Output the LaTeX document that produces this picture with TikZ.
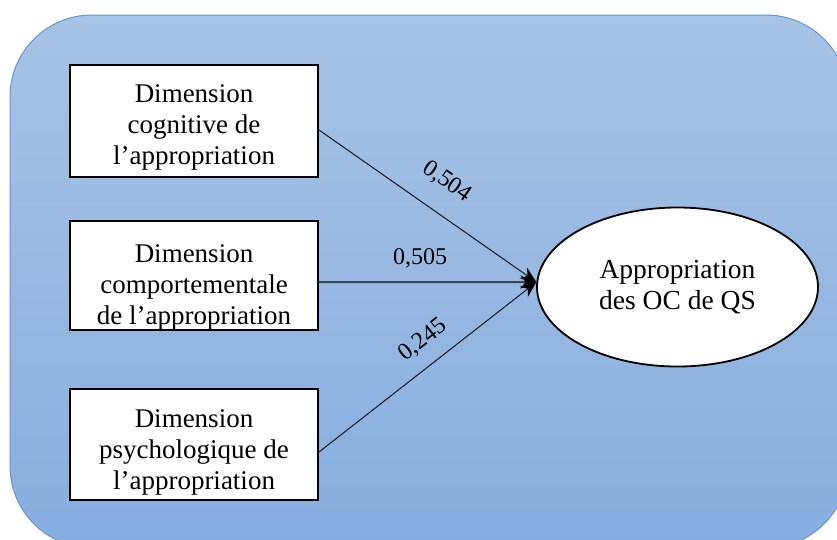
\documentclass[tikz,border=0pt]{standalone}
\usepackage{fontspec}
\setmainfont{Liberation Serif}
\usetikzlibrary{shapes.geometric,arrows.meta}
\definecolor{bgtop}{RGB}{167,195,229}
\definecolor{bgbot}{RGB}{134,174,223}
\definecolor{bgline}{RGB}{98,150,214}
\definecolor{conn}{RGB}{35,35,42}
\definecolor{connmid}{RGB}{55,68,90}
\begin{document}
\begin{tikzpicture}[x=1pt,y=-1pt,
  box/.style={draw=black, line width=2pt, fill=white, minimum width=248pt, inner sep=0pt},
  boxtext/.style={anchor=north, inner sep=0pt, align=center, font=\fontsize{27}{31}\selectfont},
  target/.style={ellipse, draw=black, line width=1.8pt, fill=white, minimum width=281pt, minimum height=159pt, inner sep=0pt, align=center, font=\fontsize{27.5}{31}\selectfont},
  link/.style={draw=conn, line width=1.1pt, -{Stealth[length=16pt,width=13pt,color=black]}},
  linkmid/.style={draw=connmid, line width=2pt, -{Stealth[length=16pt,width=13pt,color=black]}},
  lbl/.style={inner sep=0pt, font=\fontsize{24}{28}\selectfont}
]
\useasboundingbox (0,0) rectangle (837,539);
\begin{scope}
  \clip (0,0) rectangle (837,539);
  \path[top color=bgtop, bottom color=bgbot, draw=bgline, line width=1pt, rounded corners=82pt] (10,15) rectangle (848,548);
\end{scope}

% boxes
\node[box, minimum height=112pt] (b1) at (194,121) {};
\node[box, minimum height=109pt] (b2) at (194,275.5) {};
\node[box, minimum height=111pt] (b3) at (194,444.5) {};

\node[boxtext] (t1) at (194,82) {\rule{0pt}{20pt}Dimension\\cognitive de\\l’appropriation};
\node[boxtext] (t2) at (194,242) {\rule{0pt}{20pt}Dimension\\comportementale\\de l’appropriation};
\node[boxtext] (t3) at (194,407) {\rule{0pt}{20pt}Dimension\\psychologique de\\l’appropriation};

% target ellipse
\node[target] (E) at (677.5,287) {Appropriation\\des OC de QS};

% connectors
\draw[link] ([yshift=-9pt]b1.east) -- (E.178);
\draw[linkmid] ([yshift=-6.5pt]b2.east) -- (E.178);
\draw[link] ([yshift=-7.5pt]b3.east) -- (E.178);

% labels
\node[lbl, rotate=-34.8] (l1) at (447,182) {0,504};
\node[lbl] (l2) at (420,258) {0,505};
\node[lbl, rotate=37.8] (l3) at (423,340) {0,245};
\end{tikzpicture}
\end{document}
